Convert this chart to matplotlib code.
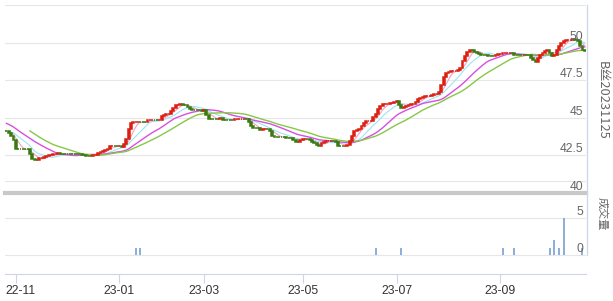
import numpy as np
import pandas as pd
import matplotlib
matplotlib.use("Agg")
import matplotlib.pyplot as plt
from matplotlib.lines import Line2D
from matplotlib.transforms import ScaledTranslation

# trading calendar (exchange holidays removed)
holidays = pd.to_datetime([
    "2022-10-03", "2022-10-04", "2022-10-05", "2022-10-06", "2022-10-07",
    "2023-01-02", "2023-01-23", "2023-01-24", "2023-01-25", "2023-01-26", "2023-01-27",
    "2023-04-05", "2023-05-01", "2023-05-02", "2023-05-03", "2023-06-22", "2023-06-23",
    "2023-09-29", "2023-10-02", "2023-10-03", "2023-10-04", "2023-10-05", "2023-10-06",
])
days = pd.bdate_range("2022-09-22", "2023-10-31")
days = days[~days.isin(holidays)]

# closes, month by month (first block only feeds the moving averages)
pre = [45.4, 45.4, 45.3, 45.2, 45.2, 45.1, 45.0, 45.0, 44.9, 44.8,
       44.3, 44.2, 44.1, 44.1, 44.1, 44.1, 44.1, 44.1, 44.1]
oct22 = [44.1, 44.0, 43.8, 43.5]
nov = [42.9, 42.9, 42.9, 42.9, 42.9, 42.9, 42.6, 42.25, 42.2, 42.2, 42.3,
       42.35, 42.4, 42.45, 42.5, 42.55, 42.6, 42.6, 42.65, 42.6, 42.6, 42.6]
dec = [42.6, 42.6, 42.6, 42.6, 42.6, 42.6, 42.5, 42.5, 42.48, 42.47, 42.47,
       42.5, 42.55, 42.65, 42.75, 42.8, 42.85, 42.95, 43.15, 43.15, 43.12, 43.12]
jan = [43.13, 43.03, 43.25, 43.6, 44.24, 44.68, 44.7, 44.7, 44.72, 44.7, 44.7,
       44.7, 44.85, 44.85, 44.86, 44.85]
feb = [44.85, 44.88, 45.12, 45.2, 45.25, 45.27, 45.45, 45.65, 45.83, 45.88,
       45.9, 45.88, 45.85, 45.72, 45.6, 45.55, 45.52, 45.5, 45.5, 45.48]
mar = [45.5, 45.2, 44.95, 44.94, 44.94, 44.94, 44.94, 44.97, 44.86, 44.86, 44.86,
       44.86, 44.86, 44.9, 44.92, 44.92, 44.92, 44.92, 44.9, 44.7, 44.45, 44.35, 44.33]
apr = [44.3, 44.2, 44.25, 44.28, 44.25, 44.1, 43.8, 43.75, 43.72, 43.7, 43.7,
       43.7, 43.68, 43.68, 43.65, 43.55, 43.4, 43.36, 43.55]
may = [43.62, 43.62, 43.6, 43.5, 43.4, 43.3, 43.2, 43.13, 43.3, 43.4, 43.46,
       43.46, 43.46, 43.45, 43.4, 43.15, 43.13, 43.13, 43.15, 43.2]
jun = [43.46, 43.8, 44.1, 44.2, 44.25, 44.45, 44.65, 44.79, 44.8, 44.82, 45.05,
       45.23, 45.6, 45.8, 45.89, 45.92, 45.95, 45.96, 46.0, 46.05]
jul = [46.11, 45.85, 45.67, 45.72, 45.78, 45.85, 45.89, 45.9, 46.05, 46.23, 46.3,
       46.4, 46.45, 46.45, 46.47, 46.5, 46.56, 46.58, 46.7, 47.2, 47.7]
aug = [48.0, 48.05, 48.1, 48.1, 48.12, 48.2, 48.3, 48.8, 49.1, 49.35, 49.54, 49.5,
       49.4, 49.3, 49.25, 49.2, 49.2, 49.15, 49.12, 49.1, 49.1, 49.15, 49.22]
sep = [49.25, 49.3, 49.3, 49.32, 49.32, 49.3, 49.2, 49.16, 49.16, 49.15, 49.16,
       49.15, 49.15, 49.0, 48.85, 48.72, 48.95, 49.2, 49.32, 49.45]
oct23 = [49.54, 49.3, 49.1, 49.2, 49.5, 49.8, 50.0, 50.13, 50.18, 50.2, 50.2,
         50.22, 50.2, 50.1, 49.75, 49.5, 49.43]

vol_dates = ["2023-01-12", "2023-01-16", "2023-06-16", "2023-07-05", "2023-09-04",
             "2023-09-11", "2023-10-10", "2023-10-12", "2023-10-16", "2023-10-18",
             "2023-10-30"]
vol_vals = [1, 1, 1, 1, 1, 1, 1, 2, 1, 5, 1]

tick_months = ["2022-11", "2023-01", "2023-03", "2023-05", "2023-07", "2023-09"]
price_ticks = [40, 42.5, 45, 47.5, 50]
vol_ticks = [0, 5]

close = pre + oct22 + nov + dec + jan + feb + mar + apr + may + jun + jul + aug + sep + oct23
df = pd.DataFrame({"close": close}, index=days)
df["open"] = df["close"].shift(1).fillna(df["close"])
for n in (5, 10, 20, 30):
    df["ma%d" % n] = df["close"].rolling(n).mean()
df["vol"] = 0.0
df.loc[pd.to_datetime(vol_dates), "vol"] = vol_vals

x = np.arange(len(df))
start = len(pre)

UP, DOWN = "#dd1f10", "#3a7a10"
colors = []
last = DOWN
for o, c in zip(df["open"], df["close"]):
    if c > o:
        last = UP
    elif c < o:
        last = DOWN
    colors.append(last)

W, H = 613, 301
fig = plt.figure(figsize=(W / 100, H / 100), dpi=100)
fig.patch.set_facecolor("white")

num_font = "Liberation Sans"
cjk = ["Noto Sans CJK SC", "DejaVu Sans"]
grid_c = "#e6e6e6"
axis_c = "#cdd6e6"

# volume panel
av = fig.add_axes([5 / W, (H - 273.5) / H, 581 / W, 92.5 / H])
av.set_xlim(start - 0.6, len(df) - 0.5)
av.set_ylim(-2.5, 10)
for v in [0, 5, 10]:
    av.axhline(v, color=grid_c, lw=0.8, zorder=0)
av.bar(x, df["vol"], width=0.85, color="#8cb0d9", zorder=2)
for s in ["top", "right", "left"]:
    av.spines[s].set_visible(False)
av.spines["bottom"].set_color(axis_c)
av.spines["bottom"].set_linewidth(0.8)
av.set_yticks([])
tick_idx = [int(np.searchsorted(df.index, pd.Timestamp(m + "-01"))) for m in tick_months]
av.set_xticks(tick_idx)
av.set_xticklabels([df.index[i].strftime("%y-%m") for i in tick_idx],
                   fontsize=8.7, color="#333333", family=num_font)
av.tick_params(axis="x", length=6.5, color=axis_c, width=0.8, pad=2)
# first label is kept inside the chart like the original
first = av.get_xticklabels()[0]
first.set_transform(first.get_transform() + ScaledTranslation(5 / 100, 0, fig.dpi_scale_trans))
for v in vol_ticks:
    av.annotate(str(v), xy=(1, v), xycoords=("axes fraction", "data"),
                xytext=(-3, 6), textcoords="offset pixels", ha="right", va="center",
                fontsize=8.7, color="#666666", family=num_font)

# price panel
ap = fig.add_axes([5 / W, (H - 193) / H, 581 / W, 188 / H])
ap.patch.set_alpha(0)
ap.set_xlim(start - 0.6, len(df) - 0.5)
ap.set_ylim(40, 52.5)
for v in [42.5, 45, 47.5, 50, 52.5]:
    ap.axhline(v, color=grid_c, lw=0.8, zorder=0)
ap.axhline(40, color="#c8c8c8", lw=3, zorder=1, clip_on=False)

ma_style = [("ma5", "#f3a2c6", 0.8), ("ma10", "#98e6f2", 0.8),
            ("ma20", "#d74fe0", 1.0), ("ma30", "#86c846", 1.0)]
for col, c, lw in ma_style:
    ap.plot(x, df[col], color=c, lw=lw, zorder=2)

op = df["open"].values
cl = df["close"].values
vis = x >= start
ap.bar(x[vis], (cl - op)[vis], bottom=op[vis], width=0.8,
       color=np.array(colors)[vis], edgecolor=np.array(colors)[vis],
       linewidth=1.1, zorder=3)

for s in ap.spines.values():
    s.set_visible(False)
ap.set_xticks([])
ap.set_yticks([])
for v in price_ticks:
    ap.annotate(("%g" % v), xy=(1, v), xycoords=("axes fraction", "data"),
                xytext=(-3, 6), textcoords="offset pixels", ha="right", va="center",
                fontsize=8.7, color="#666666", family=num_font)

# right axis line
fig.add_artist(Line2D([586.5 / W, 586.5 / W], [(H - 5) / H, (H - 255) / H],
                      color=axis_c, lw=0.9))

fig.text(602 / W, (H - 100) / H, "B丝20231125", rotation=270, ha="center", va="center",
         fontsize=9.3, color="#666666", family=cjk)
fig.text(602 / W, (H - 214) / H, "成交量", rotation=270, ha="center", va="center",
         fontsize=8, color="#666666", family=cjk)

fig.savefig("out.png", dpi=100)
